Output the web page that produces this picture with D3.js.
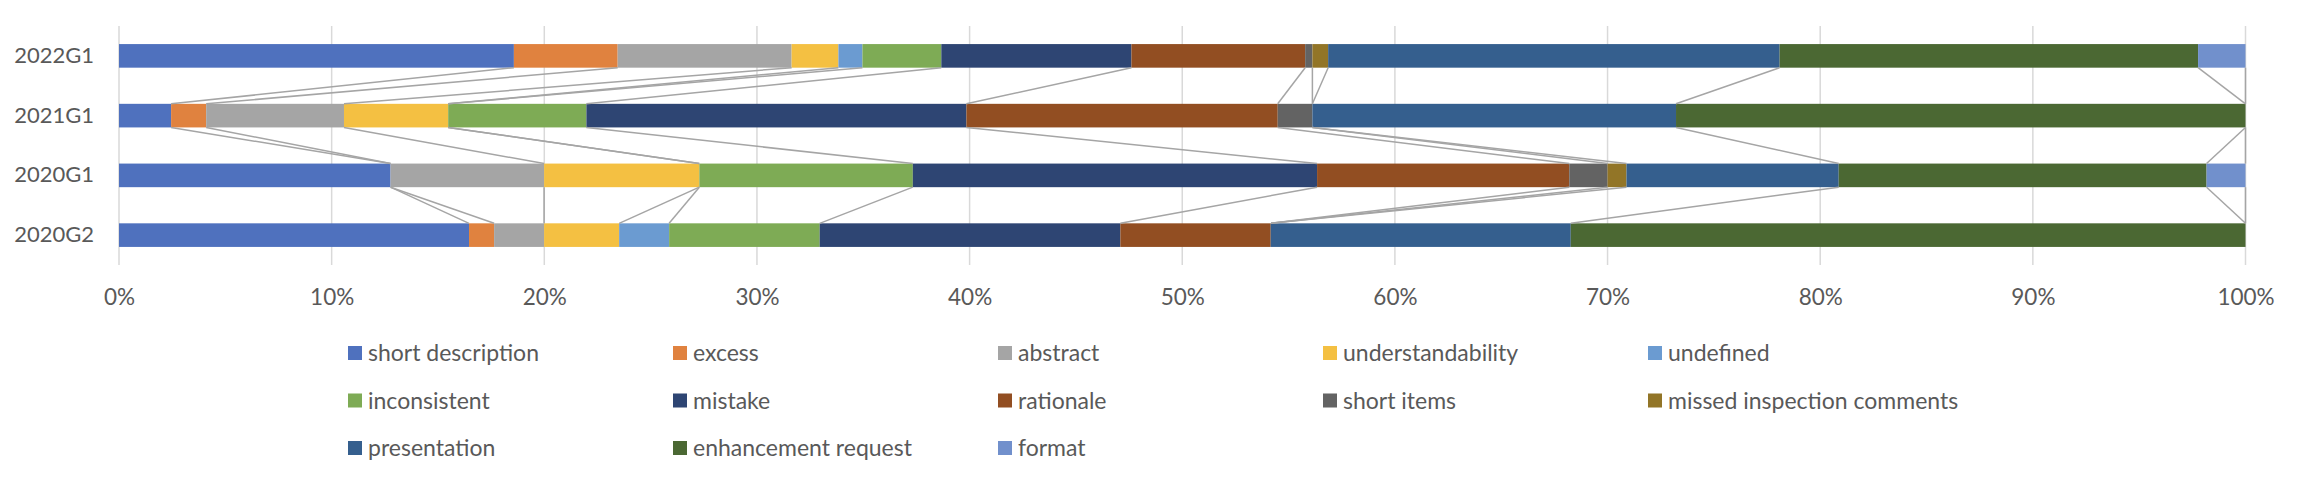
<!DOCTYPE html>
<html>
<head>
<meta charset="utf-8">
<script src="https://cdn.jsdelivr.net/npm/d3@7"></script>
<style>
  html, body { margin: 0; padding: 0; background: #fff; }
  svg { display: block; font-family: Lato, 'Open Sans', sans-serif; }
</style>
</head>
<body>
<div id="chart"></div>
<script>
const categories = ['2022G1', '2021G1', '2020G1', '2020G2'];

const seriesNames = [
  'short description', 'excess', 'abstract', 'understandability', 'undefined',
  'inconsistent', 'mistake', 'rationale', 'short items', 'missed inspection comments',
  'presentation', 'enhancement request', 'format',
];

// share of each category (percent), in seriesNames order
const values2022G1 = [18.57, 4.88, 8.18, 2.20, 1.13, 3.71, 8.94, 8.17, 0.34, 0.74, 21.23, 19.68, 2.23];
const values2021G1 = [2.45, 1.65, 6.48, 4.90, 0, 6.50, 17.87, 14.64, 1.63, 0, 17.10, 26.78, 0];
const values2020G1 = [12.77, 0, 7.22, 7.30, 0, 10.04, 19.01, 11.86, 1.80, 0.89, 9.98, 17.30, 1.83];
const values2020G2 = [16.46, 1.18, 2.35, 3.53, 2.35, 7.08, 14.14, 7.07, 0, 0, 14.11, 31.73, 0];

const xTicks = [0, 10, 20, 30, 40, 50, 60, 70, 80, 90, 100];

const colors = [
  '#4f71be', '#e0823f', '#a5a5a5', '#f4c042', '#6b9bd1',
  '#7eab55', '#2e4573', '#924e22', '#636363', '#927527',
  '#355f8e', '#4b6833', '#7190cc',
];

const rows = [values2022G1, values2021G1, values2020G1, values2020G2];
const table = categories.map((cat, i) => {
  const row = { category: cat };
  seriesNames.forEach((s, j) => { row[s] = rows[i][j]; });
  return row;
});

const width = 2300;
const height = 482;
const margin = { top: 26, right: 54, bottom: 217, left: 119 };
const innerW = 2245.5 - margin.left;
const innerH = 265 - margin.top;

const svg = d3.select('#chart').append('svg')
  .attr('width', width)
  .attr('height', height);

const g = svg.append('g')
  .attr('transform', `translate(${margin.left}, ${margin.top})`);

const xScale = d3.scaleLinear()
  .domain([0, 100])
  .range([0, innerW]);

const yScale = d3.scaleBand()
  .domain(categories)
  .range([0, innerH])
  .paddingInner(0.605)
  .paddingOuter(0.3025);

// gridlines
g.append('g')
  .selectAll('line')
  .data(xTicks)
  .enter().append('line')
  .attr('x1', d => xScale(d))
  .attr('x2', d => xScale(d))
  .attr('y1', 0)
  .attr('y2', innerH)
  .attr('stroke', '#d9d9d9')
  .attr('stroke-width', 1.5);

const xAxis = d3.axisBottom(xScale)
  .tickValues(xTicks)
  .tickFormat(d => `${d}%`)
  .tickSize(0)
  .tickPadding(24);

const yAxis = d3.axisLeft(yScale)
  .tickSize(0)
  .tickPadding(25);

const xAxisG = g.append('g')
  .attr('transform', `translate(0, ${innerH})`)
  .call(xAxis);
xAxisG.select('.domain').remove();
xAxisG.selectAll('text')
  .attr('font-size', '22.5px')
  .attr('font-family', 'Lato, sans-serif')
  .attr('fill', '#595959');

const yAxisG = g.append('g').call(yAxis);
yAxisG.select('.domain').remove();
yAxisG.selectAll('text')
  .attr('font-size', '22px')
  .attr('font-family', 'Lato, sans-serif')
  .attr('fill', '#595959');

const stacked = d3.stack().keys(seriesNames)(table);

const layer = g.selectAll('.layer')
  .data(stacked)
  .enter().append('g')
  .attr('class', 'layer')
  .attr('fill', (d, i) => colors[i]);

layer.selectAll('rect')
  .data(d => d)
  .enter().append('rect')
  .attr('x', d => xScale(d[0]))
  .attr('y', d => yScale(d.data.category))
  .attr('width', d => xScale(d[1]) - xScale(d[0]))
  .attr('height', yScale.bandwidth());

// series lines between adjacent bars
const links = [];
stacked.forEach((s) => {
  for (let i = 0; i < s.length - 1; i += 1) {
    links.push({ a: s[i], b: s[i + 1] });
  }
});

g.append('g')
  .selectAll('line')
  .data(links)
  .enter().append('line')
  .attr('x1', d => xScale(d.a[1]))
  .attr('y1', d => yScale(d.a.data.category) + yScale.bandwidth())
  .attr('x2', d => xScale(d.b[1]))
  .attr('y2', d => yScale(d.b.data.category))
  .attr('stroke', '#a5a5a5')
  .attr('stroke-width', 1.5);

// legend
const legend = svg.append('g')
  .attr('transform', 'translate(348, 346)');

const item = legend.selectAll('.item')
  .data(seriesNames)
  .enter().append('g')
  .attr('class', 'item')
  .attr('transform', (d, i) => `translate(${(i % 5) * 325}, ${Math.floor(i / 5) * 47.5})`);

item.append('rect')
  .attr('width', 14)
  .attr('height', 14)
  .attr('fill', (d, i) => colors[i]);

item.append('text')
  .attr('x', 20)
  .attr('y', 7)
  .attr('dy', '0.35em')
  .attr('font-size', '23px')
  .attr('fill', '#595959')
  .text(d => d);
</script>
</body>
</html>
